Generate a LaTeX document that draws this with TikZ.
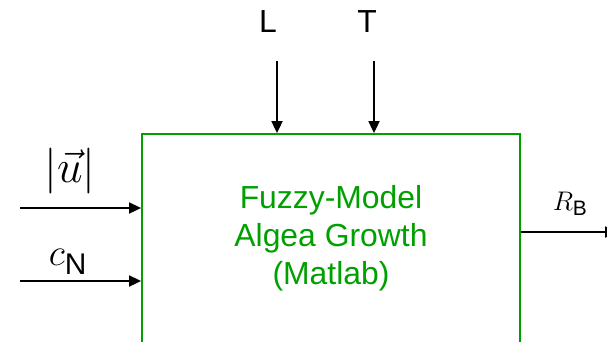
\RequirePackage{fix-cm}
\documentclass[tikz,border=0pt]{standalone}
\usepackage{fontspec}
\setmainfont{Liberation Sans}
\usetikzlibrary{arrows.meta,positioning}
\definecolor{blockgreen}{RGB}{0, 160, 0}

\begin{document}
\begin{tikzpicture}[x=1bp,y=-1bp,
  sig/.style={-{Triangle[length=12bp,width=11bp]},line width=1.8bp,black},
  block/.style={draw=blockgreen,line width=1.8bp,minimum width=378bp,minimum height=240bp,inner sep=0pt},
  big/.style={font=\fontsize{32}{38}\selectfont,inner sep=0pt}]
\useasboundingbox (0,0) rectangle (607,341);
% Model block (runs past the lower edge)
\node[block] (model) at (331,254) {};
\node[big,text=blockgreen,align=center] (modeltxt) at (331,238) {Fuzzy-Model\\Algea Growth\\(Matlab)};

% Inputs from the top
\node[big] (L) at (268,22) {L};
\node[big] (T) at (367,22) {T};
\coordinate (Lin) at (277,61);
\coordinate (Tin) at (374,61);
\draw[sig] (Lin) -- (Lin |- model.north);
\draw[sig] (Tin) -- (Tin |- model.north);

% Inputs from the left
\node[font=\fontsize{46}{52}\selectfont,inner sep=0pt] (u) at (70,171) {$|\vec{u}|$};
\node[font=\fontsize{38}{44}\selectfont,inner sep=0pt] (cN) at (68,262) {$c_{\raisebox{-4bp}{\fontsize{30}{36}\selectfont N}}$};
\coordinate (uin) at (20,208);
\coordinate (cin) at (20,281);
\draw[sig] (uin) -- (uin -| model.west);
\draw[sig] (cin) -- (cin -| model.west);

% Output
\node[font=\fontsize{27}{30}\selectfont,inner sep=0pt] (RB) at (570,204) {$R_{\mbox{\fontsize{21}{24}\selectfont B}}$};
\coordinate (rout) at (617,232);
\draw[sig] (rout -| model.east) -- (rout);
\end{tikzpicture}
\end{document}
